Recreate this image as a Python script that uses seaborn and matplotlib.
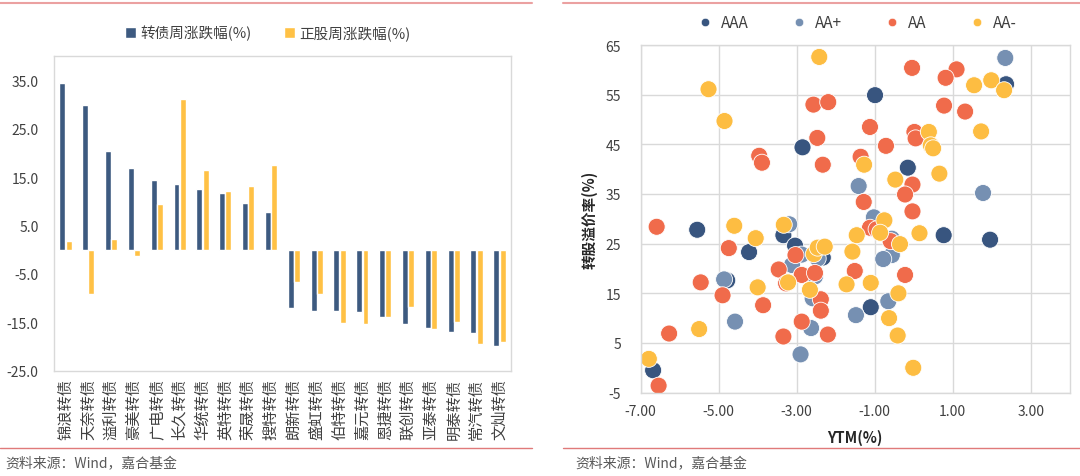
import numpy as np
import pandas as pd
import matplotlib
matplotlib.use("Agg")
import matplotlib.pyplot as plt
import seaborn as sns
from matplotlib.lines import Line2D

# Left panel: weekly change of convertible bonds vs underlying stocks
bonds = ['锦浪转债', '天奈转债', '溢利转债', '豪美转债', '广电转债', '长久转债', '华统转债',
         '英特转债', '荣晟转债', '搜特转债', '朗新转债', '盛虹转债', '伯特转债', '嘉元转债',
         '恩捷转债', '联创转债', '亚泰转债', '明泰转债', '常汽转债', '文灿转债']
cb_chg = [34.5, 29.9, 20.4, 16.8, 14.5, 13.5, 12.6, 11.7, 9.7, 7.8,
          -12.0, -12.6, -12.6, -12.9, -14.0, -15.4, -16.1, -17.1, -17.3, -20.0]
stock_chg = [1.7, -9.2, 2.3, -1.4, 9.5, 31.2, 16.4, 12.2, 13.2, 17.6,
             -6.6, -9.1, -15.1, -15.4, -14.0, -11.9, -16.3, -14.9, -19.6, -19.1]
series_names = ['转债周涨跌幅(%)', '正股周涨跌幅(%)']

# Right panel: YTM vs conversion premium by rating
ytm_aaa = [-2.85, -0.99, 2.37, -0.15, -5.55, -3.34, -4.22, -3.04, -2.33, -4.78, -6.68, 0.77, 1.96, -1.10]
prem_aaa = [44.4, 54.9, 57.1, 40.3, 27.8, 26.7, 23.3, 24.6, 22.2, 17.6, -0.5, 26.7, 25.8, 12.2]

ytm_aap = [2.35, 0.21, -1.41, 1.78, -1.02, -3.19, -2.87, -2.46, -3.12, -2.53, -4.86, -2.59, -4.58,
           -2.63, -2.90, -0.56, -0.56, -0.78, -0.65, -1.48]
prem_aap = [62.4, 46.5, 36.6, 35.2, 30.3, 28.9, 22.8, 22.0, 20.7, 18.4, 17.8, 14.0, 9.3,
            8.0, 2.7, 26.0, 22.7, 21.9, 13.4, 10.6]

ytm_aa = [-2.57, -2.19, -2.47, -3.96, -3.89, -2.33, -0.04, 1.10, 0.82, 0.78, 1.32, -1.12, 0.02, 0.05,
          -0.71, -1.36, -0.03, -0.22, -1.28, -0.03, -6.59, -4.74, -3.03, -3.46, -2.87, -2.53, -3.27,
          -5.46, -4.90, -2.38, -3.86, -2.38, -2.87, -6.27, -3.34, -2.20, -6.54, -1.12, -0.95, -0.59,
          -1.51, -0.22]
prem_aa = [53.0, 53.5, 46.3, 42.7, 41.3, 40.9, 60.4, 60.1, 58.4, 52.8, 51.6, 48.5, 47.5, 46.2,
           44.7, 42.5, 36.9, 34.9, 33.4, 31.5, 28.4, 24.1, 22.7, 19.8, 18.7, 19.1, 17.0,
           17.2, 14.6, 13.8, 12.6, 11.5, 9.3, 6.9, 6.3, 6.7, -3.6, 28.2, 27.9, 25.5,
           19.5, 18.7]

ytm_aam = [-2.42, -5.26, -4.85, 1.55, 1.99, 2.32, 1.73, 0.39, 0.44, 0.50, -1.27, 0.66, -0.47, -0.75,
           -4.60, -3.33, -4.05, -2.56, -2.46, -2.28, -3.22, -4.00, -2.66, -5.50, -6.79, -1.72, -1.46,
           -0.86, 0.15, -0.35, -1.57, -1.10, -0.39, -0.63, -0.41, -0.01]
prem_aam = [62.6, 56.1, 49.7, 56.9, 57.9, 55.9, 47.6, 47.5, 44.8, 44.2, 40.9, 39.1, 37.9, 29.7,
            28.6, 28.8, 26.1, 22.9, 24.2, 24.4, 17.2, 16.2, 15.7, 7.8, 1.8, 16.8, 26.7,
            27.2, 27.1, 24.9, 23.4, 17.1, 15.0, 10.0, 6.5, 0.0]

ratings = ['AAA', 'AA+', 'AA', 'AA-']
rating_colors = ['#38557f', '#7690b2', '#f06b4b', '#fdbd42']

# Build long-form tables
bar_df = pd.DataFrame({
    'bond': bonds * 2,
    'series': [series_names[0]] * len(bonds) + [series_names[1]] * len(bonds),
    'value': cb_chg + stock_chg,
})
sc_df = pd.concat([
    pd.DataFrame({'ytm': x, 'prem': y, 'rating': r})
    for x, y, r in zip([ytm_aaa, ytm_aap, ytm_aa, ytm_aam],
                       [prem_aaa, prem_aap, prem_aa, prem_aam], ratings)
], ignore_index=True)

sns.set_theme(style="white")
plt.rcParams['font.family'] = ['Noto Sans CJK SC', 'DejaVu Sans']
plt.rcParams['axes.unicode_minus'] = False

text_color = '#404040'
grid_color = '#d9d9d9'

fig = plt.figure(figsize=(10.8, 4.77), dpi=100)

# Bar chart
ax1 = fig.add_axes([0.050, 0.221, 0.423, 0.659])
sns.barplot(data=bar_df, x='bond', y='value', hue='series', hue_order=series_names,
            palette=['#3d5a80', '#ffc145'], width=0.55, gap=0.05, saturation=1,
            ax=ax1)
ax1.set_ylim(-25, 40)
ax1.set_yticks(np.arange(-25, 36, 10))
ax1.set_yticklabels([f'{v:.1f}' for v in np.arange(-25, 36, 10)])
ax1.set_xlim(-0.5, len(bonds) - 0.5)
ax1.set_xlabel('')
ax1.set_ylabel('')
ax1.tick_params(axis='x', labelrotation=90, labelsize=11, colors=text_color, length=0, pad=5)
ax1.tick_params(axis='y', labelsize=10, colors=text_color, length=0, pad=11)
for sp in ax1.spines.values():
    sp.set_color(grid_color)
    sp.set_linewidth(1)
handles, labels = ax1.get_legend_handles_labels()
ax1.legend(handles, labels, loc='center', bbox_to_anchor=(0.248, 0.929),
           bbox_transform=fig.transFigure, ncol=2, frameon=False, fontsize=10.5,
           handlelength=0.75, handleheight=0.75, handletextpad=0.3, columnspacing=2.2,
           labelcolor=text_color)

# Scatter chart
ax2 = fig.add_axes([0.5932, 0.1748, 0.3972, 0.7287])
sns.scatterplot(data=sc_df, x='ytm', y='prem', hue='rating', hue_order=ratings,
                palette=rating_colors, s=150, edgecolor='white', linewidth=0.6,
                alpha=1, ax=ax2)
ax2.set_xlim(-7, 4)
ax2.set_ylim(-5, 65)
ax2.set_xticks(np.arange(-7, 4, 2))
ax2.set_xticklabels([f'{v:.2f}' for v in np.arange(-7, 4, 2)])
ax2.set_yticks(np.arange(-5, 66, 10))
ax2.grid(True, color=grid_color, linewidth=1)
ax2.set_axisbelow(True)
for sp in ax2.spines.values():
    sp.set_color(grid_color)
    sp.set_linewidth(1)
ax2.tick_params(labelsize=10, colors=text_color, length=0)
ax2.tick_params(axis='y', pad=14)
ax2.tick_params(axis='x', pad=8)
ax2.set_xlabel('YTM(%)', fontsize=10.5, fontweight='bold', color='#262626', labelpad=8)
ax2.set_ylabel('转股溢价率(%)', fontsize=10.5, fontweight='bold', color='#262626', labelpad=6)
leg_handles = [Line2D([0], [0], marker='o', linestyle='', markersize=6,
                      markerfacecolor=c, markeredgecolor='white', markeredgewidth=0.4)
               for c in rating_colors]
ax2.legend(leg_handles, ratings, loc='center', bbox_to_anchor=(0.790, 0.95),
           bbox_transform=fig.transFigure, ncol=4, frameon=False, fontsize=11,
           handletextpad=0.05, columnspacing=2.3, labelcolor=text_color)

# Report decorations: red rules and source notes
for x0, x1 in [(0.0, 0.493), (0.521, 1.0)]:
    fig.add_artist(Line2D([x0, x1], [0.991, 0.991], color='#eba1a1', linewidth=1.5,
                          transform=fig.transFigure))
    fig.add_artist(Line2D([x0, x1], [0.058, 0.058], color='#e07a7a', linewidth=1.0,
                          transform=fig.transFigure))
fig.text(0.005, 0.018, '资料来源：Wind，嘉合基金', fontsize=10, color='#595959')
fig.text(0.533, 0.018, '资料来源：Wind，嘉合基金', fontsize=10, color='#595959')

fig.savefig('out.png', dpi=100)
